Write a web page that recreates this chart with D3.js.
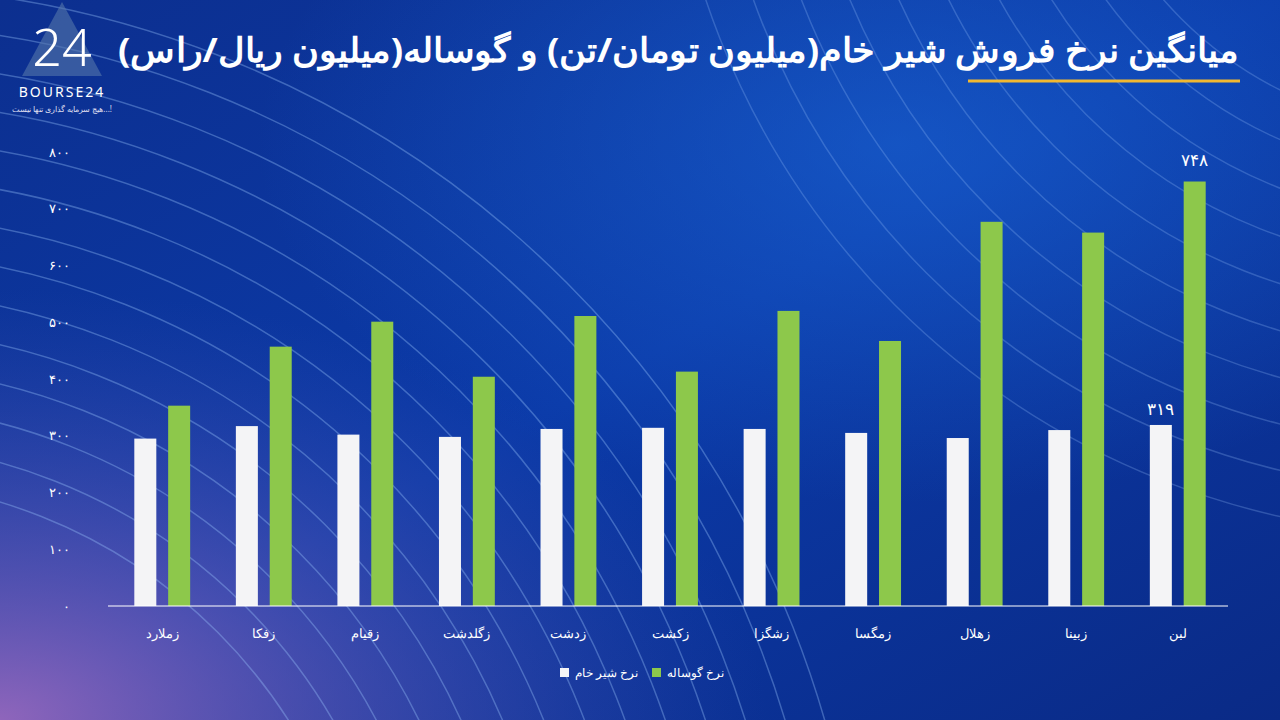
<!DOCTYPE html>
<html><head><meta charset="utf-8">
<script src="https://cdn.jsdelivr.net/npm/d3@7/dist/d3.min.js"></script>
<style>body{margin:0;background:#0a2a8a}svg{display:block}</style>
</head><body><svg id="c" width="1280" height="720"></svg>
<script>
const categories=["زملارد","زفکا","زقیام","زگلدشت","زدشت","زکشت","زشگزا","زمگسا","زهلال","زبینا","لبن"];
const milkPrice=[295,317,302,298,312,314,312,305,296,310,319];
const calfPrice=[353,457,501,404,511,413,520,467,677,658,748];
const yTicks=[0,100,200,300,400,500,600,700,800];
const seriesNames=["نرخ شیر خام","نرخ گوساله"];
const colors=["#f4f4f6","#8dc84b"];
const fa=n=>String(n).replace(/\d/g,d=>"۰۱۲۳۴۵۶۷۸۹"[d]);

const svg=d3.select("#c");
const defs=svg.append("defs");
const g1=defs.append("linearGradient").attr("id","bg").attr("x1","0").attr("y1","0").attr("x2","1").attr("y2","1");
g1.append("stop").attr("offset","0").attr("stop-color","#0c2f8f");
g1.append("stop").attr("offset","0.5").attr("stop-color","#0b3aa8");
g1.append("stop").attr("offset","1").attr("stop-color","#0a2a86");
svg.append("rect").attr("width",1280).attr("height",720).attr("fill","url(#bg)");
const rg=defs.append("radialGradient").attr("id","pur").attr("cx","0").attr("cy","1").attr("r","0.6");
rg.append("stop").attr("offset","0").attr("stop-color","#b070c0").attr("stop-opacity",0.8);
rg.append("stop").attr("offset","1").attr("stop-color","#4050b0").attr("stop-opacity",0);
svg.append("rect").attr("width",1280).attr("height",720).attr("fill","url(#pur)");
const rg2=defs.append("radialGradient").attr("id","cy").attr("cx","0.7").attr("cy","0.2").attr("r","0.5");
rg2.append("stop").attr("offset","0").attr("stop-color","#1e6fe0").attr("stop-opacity",0.5);
rg2.append("stop").attr("offset","1").attr("stop-color","#1e6fe0").attr("stop-opacity",0);
svg.append("rect").attr("width",1280).attr("height",720).attr("fill","url(#cy)");
const waves=svg.append("g").attr("fill","none").attr("stroke","#9fc8ff").attr("stroke-opacity",0.35);
d3.range(14).forEach(i=>{waves.append("circle").attr("cx",-150).attr("cy",1000).attr("r",520+i*38).attr("stroke-width",1.5);});
d3.range(10).forEach(i=>{waves.append("circle").attr("cx",1450).attr("cy",-250).attr("r",380+i*45).attr("stroke-width",1.5).attr("stroke-opacity",0.25);});

const m={l:108,r:1228,t:147,b:606};
const x=d3.scaleBand().domain(categories).range([114,1226]).paddingInner(0.45).paddingOuter(0.2);
const x2=d3.scaleBand().domain([0,1]).range([0,x.bandwidth()]).paddingInner(0.35);
const y=d3.scaleLinear().domain([0,800]).range([m.b,m.b-454]);

svg.append("g").selectAll("text").data(yTicks).join("text")
 .attr("x",70).attr("y",d=>y(d)).attr("dy","0.35em").attr("text-anchor","end")
 .attr("fill","#fff").attr("font-family","Noto Sans, sans-serif").attr("font-size",13).text(d=>fa(d));

const grp=svg.append("g").selectAll("g").data(categories).join("g").attr("transform",d=>`translate(${x(d)},0)`);
[milkPrice,calfPrice].forEach((arr,s)=>{
 grp.append("rect").attr("x",x2(s)).attr("width",x2.bandwidth())
  .attr("y",(d,i)=>y(arr[i])).attr("height",(d,i)=>m.b-y(arr[i])).attr("fill",colors[s]);
});
svg.append("line").attr("x1",m.l).attr("x2",m.r).attr("y1",m.b).attr("y2",m.b).attr("stroke","#fff").attr("stroke-width",1.2);
svg.append("g").selectAll("text").data(categories).join("text")
 .attr("x",d=>x(d)+x.bandwidth()/2).attr("y",638).attr("text-anchor","middle")
 .attr("fill","#fff").attr("font-family","Noto Sans, sans-serif").attr("font-size",13).text(d=>d);
const last=categories.length-1, lc=categories[last];
svg.append("text").attr("x",x(lc)+x2(0)+x2.bandwidth()/2).attr("y",y(milkPrice[last])-10).attr("text-anchor","middle")
 .attr("fill","#fff").attr("font-family","Noto Sans, sans-serif").attr("font-size",17).text(fa(milkPrice[last]));
svg.append("text").attr("x",x(lc)+x2(1)+x2.bandwidth()/2).attr("y",y(calfPrice[last])-16).attr("text-anchor","middle")
 .attr("fill","#fff").attr("font-family","Noto Sans, sans-serif").attr("font-size",17).text(fa(calfPrice[last]));

const lg=svg.append("g").attr("font-family","Noto Sans, sans-serif").attr("font-size",12).attr("fill","#fff");
[[0,560],[1,652]].forEach(([s,rx])=>{
 lg.append("rect").attr("x",rx).attr("y",668).attr("width",9).attr("height",9).attr("fill",colors[s]);
 lg.append("text").attr("x",rx+15).attr("y",677).attr("text-anchor","start").text(seriesNames[s]);
});

svg.append("text").attr("x",1238).attr("y",62).attr("text-anchor","end")
 .attr("fill","#fff").attr("font-family","Noto Sans, sans-serif").attr("font-weight","bold").attr("font-size",34)
 .attr("textLength",1120).attr("lengthAdjust","spacingAndGlyphs")
 .text("میانگین نرخ فروش شیر خام(میلیون تومان/تن) و گوساله(میلیون ریال/راس)");
svg.append("line").attr("x1",968).attr("x2",1240).attr("y1",81).attr("y2",81).attr("stroke","#f2b830").attr("stroke-width",3);

const lo=svg.append("g");
lo.append("path").attr("d","M22,76 L62,2 L102,76 Z").attr("fill","#5577aa").attr("fill-opacity",0.6);
lo.append("text").attr("x",62).attr("y",66).attr("text-anchor","middle").attr("fill","#fff").attr("font-family","Noto Sans, sans-serif").attr("font-size",52).attr("font-weight","300").text("24");
lo.append("text").attr("x",62).attr("y",97).attr("text-anchor","middle").attr("fill","#fff").attr("font-family","Noto Sans, sans-serif").attr("font-size",14).attr("letter-spacing",2).text("BOURSE24");
lo.append("text").attr("x",62).attr("y",112).attr("text-anchor","middle").attr("fill","#dde").attr("font-family","Noto Sans, sans-serif").attr("font-size",8).text("هیچ سرمایه گذاری تنها نیست...!");
</script></body></html>
